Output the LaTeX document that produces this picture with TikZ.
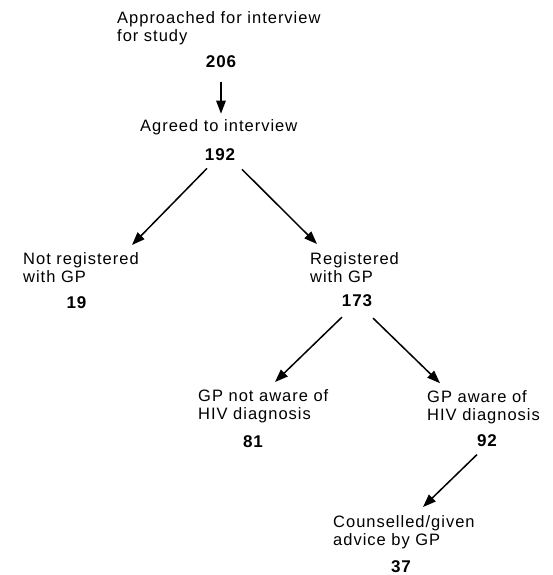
\documentclass[tikz,border=0pt]{standalone}
\usepackage{fontspec}
\setmainfont{Liberation Sans}[LetterSpace=6]
\usetikzlibrary{arrows.meta,calc}
\begin{document}
\begin{tikzpicture}[x=1pt,y=-1pt,
  lbl/.style={inner sep=0pt, align=left, anchor=north west, font=\fontsize{16.5}{18}\selectfont},
  num/.style={inner sep=0pt, anchor=base, font=\fontsize{17}{18}\selectfont\bfseries},
  arr/.style={line width=1.5pt, -{Triangle[length=13pt,width=9.5pt]}}]
\useasboundingbox (0,0) rectangle (552,575);
% labels (north west at baseline - 11.8)
\node[lbl] (ap) at (117,10.9) {Approached for interview\\for study};
\node[num] (n206) at (221,67.3) {206};
\node[lbl, anchor=base west] (ag) at (140,131.7) {Agreed to interview};
\node[num] (n192) at (220,160) {192};
\node[lbl] (nr) at (23,252.2) {Not registered\\with GP};
\node[num] (n19) at (76.5,308) {19};
\node[lbl] (rg) at (310,252.2) {Registered\\with GP};
\node[num] (n173) at (357,306.7) {173};
\node[lbl] (na) at (198,389.2) {GP not aware of\\HIV diagnosis};
\node[num] (n81) at (253,447) {81};
\node[lbl] (aw) at (427,389.9) {GP aware of\\HIV diagnosis};
\node[num] (n92) at (487,446.7) {92};
\node[lbl] (cg) at (333,515.2) {Counselled/given\\advice by GP};
\node[num] (n37) at (401,572.5) {37};
% connectors
\draw[arr] ($(n206.south)+(0,14.4)$) -- ($(n206.south)+(0,46)$);
\draw[arr] ($(n192.south)+(-13,8)$) -- ($(nr.north west)+(109,-7.2)$);
\draw[arr] ($(n192.south)+(22,9)$) -- ($(rg.north west)+(7,-8.2)$);
\draw[arr] ($(n173.south)+(-15,10)$) -- ($(na.north west)+(77,-7.2)$);
\draw[arr] ($(n173.south)+(16,11)$) -- ($(aw.north west)+(13,-6.7)$);
\draw[arr] ($(n92.south)+(-10,7.5)$) -- ($(cg.north west)+(90,-8.2)$);
\end{tikzpicture}
\end{document}
